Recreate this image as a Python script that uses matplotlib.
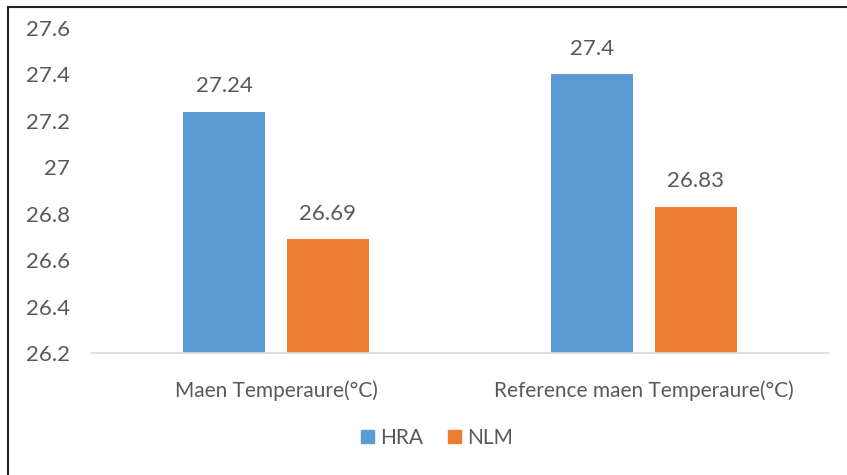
import numpy as np
import matplotlib
matplotlib.use("Agg")
import matplotlib.pyplot as plt
from matplotlib.lines import Line2D
from matplotlib.patches import Patch

plt.rcParams['font.family'] = ['Lato', 'DejaVu Sans']

categories = ["Maen Temperaure(°C)", "Reference maen Temperaure(°C)"]
hra = [27.24, 27.4]
nlm = [26.69, 26.83]
yticks = [26.2, 26.4, 26.6, 26.8, 27.0, 27.2, 27.4, 27.6]
ytick_labels = ["26.2", "26.4", "26.6", "26.8", "27", "27.2", "27.4", "27.6"]

blue = "#5B9BD5"
orange = "#ED7D31"
text_col = "#595959"

fig = plt.figure(figsize=(8.47, 4.75), dpi=100)
ax = fig.add_axes([92/847, 1-353/475, 736/847, (353-28)/475])

x = np.arange(len(categories))
w = 82/368
off = 52/368
ymin = 26.2
b1 = ax.bar(x - off, np.array(hra) - ymin, w, bottom=ymin, color=blue, label="HRA")
b2 = ax.bar(x + off, np.array(nlm) - ymin, w, bottom=ymin, color=orange, label="NLM")

for bars, vals in ((b1, hra), (b2, nlm)):
    for r, v in zip(bars, vals):
        ax.annotate(f"{v:g}", (r.get_x() + r.get_width()/2, v), xytext=(0, 11),
                    textcoords="offset points", ha="center", va="bottom",
                    fontsize=16, color=text_col)

ax.set_xlim(-0.5, 1.5)
ax.set_ylim(26.2, 27.6)
ax.set_yticks(yticks)
ax.set_yticklabels(ytick_labels)
ax.set_xticks(x)
ax.set_xticklabels(categories)
ax.tick_params(axis="y", length=0, pad=16, labelsize=16, labelcolor=text_col)
ax.tick_params(axis="x", length=0, pad=20, labelsize=15, labelcolor=text_col)
for s in ("top", "right", "left"):
    ax.spines[s].set_visible(False)
ax.spines["bottom"].set_color("#D9D9D9")
ax.spines["bottom"].set_linewidth(1.2)

handles = [Patch(color=blue, label="HRA"), Patch(color=orange, label="NLM")]
fig.legend(handles=handles, loc="center", bbox_to_anchor=(437/847, 1-438/475),
           ncol=2, frameon=False, fontsize=15, handlelength=0.6, handleheight=0.6,
           handletextpad=0.3, columnspacing=1.2, labelcolor=text_col)

# outer frame (left and top edges visible in the original)
fig.add_artist(Line2D([8/847, 8/847], [0, 1-7/475], color="#222222", lw=1.5, transform=fig.transFigure))
fig.add_artist(Line2D([8/847, 1], [1-7/475, 1-7/475], color="#222222", lw=1.5, transform=fig.transFigure))

fig.savefig("out.png", dpi=100)
